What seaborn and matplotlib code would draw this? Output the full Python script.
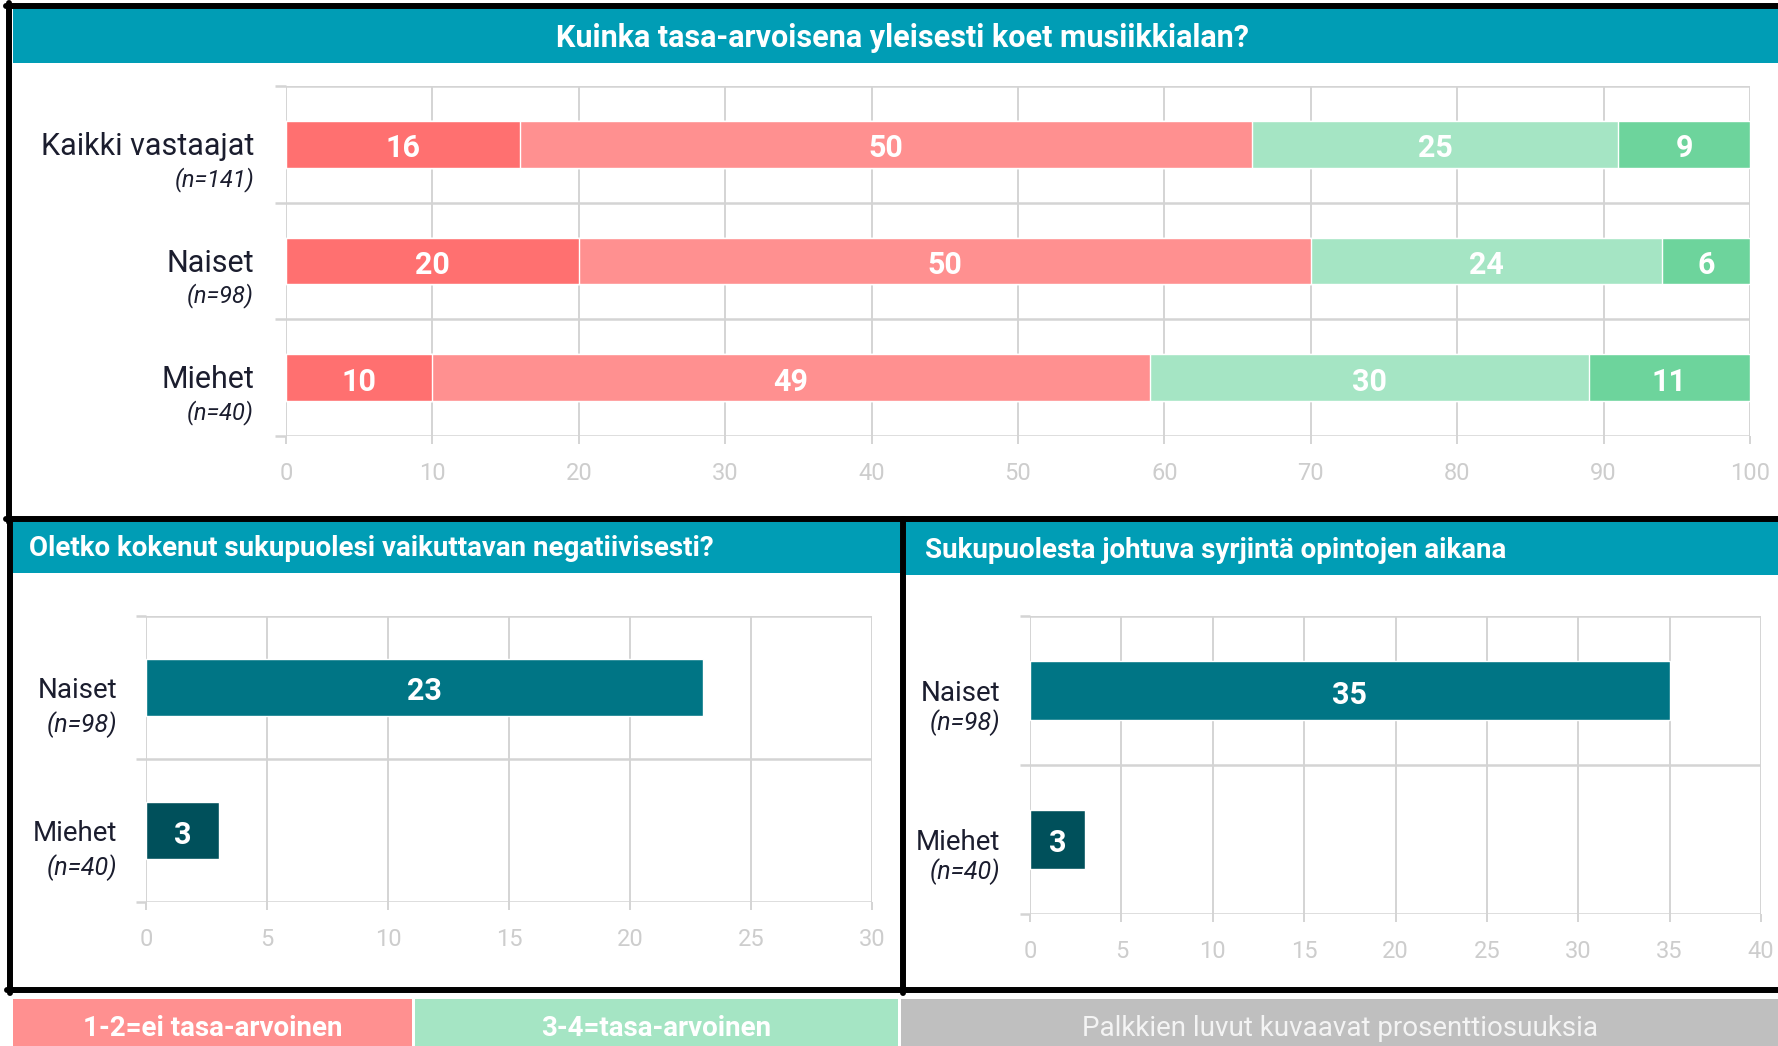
import numpy as np
import pandas as pd
import matplotlib
matplotlib.use("Agg")
import matplotlib.pyplot as plt
import seaborn as sns
from matplotlib.patches import Rectangle
from matplotlib.lines import Line2D
from matplotlib import font_manager

# ---------------- data ----------------
top_title = "Kuinka tasa-arvoisena yleisesti koet musiikkialan?"
top_categories = ["Kaikki vastaajat", "Naiset", "Miehet"]
top_n_labels = ["(n=141)", "(n=98)", "(n=40)"]
seg_1 = [16, 20, 10]
seg_2 = [50, 50, 49]
seg_3 = [25, 24, 30]
seg_4 = [9, 6, 11]
top_ticks = [0, 10, 20, 30, 40, 50, 60, 70, 80, 90, 100]

neg_title = "Oletko kokenut sukupuolesi vaikuttavan negatiivisesti?"
neg_categories = ["Naiset", "Miehet"]
neg_n_labels = ["(n=98)", "(n=40)"]
neg_values = [23, 3]
neg_ticks = [0, 5, 10, 15, 20, 25, 30]

disc_title = "Sukupuolesta johtuva syrjintä opintojen aikana"
disc_categories = ["Naiset", "Miehet"]
disc_n_labels = ["(n=98)", "(n=40)"]
disc_values = [35, 3]
disc_ticks = [0, 5, 10, 15, 20, 25, 30, 35, 40]

legend_texts = ["1-2=ei tasa-arvoinen", "3-4=tasa-arvoinen",
                "Palkkien luvut kuvaavat prosenttiosuuksia"]

# ---------------- style ----------------
sns.set_theme(style="white")
names = {f.name for f in font_manager.fontManager.ttflist}
REG = "Roboto" if "Roboto" in names else "DejaVu Sans"
plt.rcParams["font.family"] = [REG, "DejaVu Sans"]

BAND = "#009DB5"
SEG_COLORS = ["#FF7070", "#FF9090", "#A5E5C4", "#6DD49C"]
TEAL = ["#007585", "#00505B"]
GRID = "#D4D4D4"
TICKC = "#CDCDCD"
LABC = "#1b1d2e"
LEG_GRAY = "#BFBFBF"

W, H = 1778, 1046
fig = plt.figure(figsize=(W / 100, H / 100), dpi=100)
fig.patch.set_facecolor("white")


def fbox(x0, y0, x1, y1):
    return [x0 / W, 1 - y1 / H, (x1 - x0) / W, (y1 - y0) / H]


def rect(x0, y0, x1, y1, color):
    b = fbox(x0, y0, x1, y1)
    fig.add_artist(Rectangle((b[0], b[1]), b[2], b[3], transform=fig.transFigure,
                             facecolor=color, edgecolor="none", zorder=0))


def hline(y, x0, x1, lw=4.3, color="black"):
    fig.add_artist(Line2D([x0 / W, x1 / W], [1 - y / H, 1 - y / H],
                          transform=fig.transFigure, color=color, lw=lw, zorder=5))


def vline(x, y0, y1, lw=4.3, color="black"):
    fig.add_artist(Line2D([x / W, x / W], [1 - y0 / H, 1 - y1 / H],
                          transform=fig.transFigure, color=color, lw=lw, zorder=5))


val_fs = 22

# title bands
rect(13, 9, W, 63, BAND)
rect(13, 522, 900, 573, BAND)
rect(906, 522, W, 575, BAND)
fig.text(902 / W, 1 - 38 / H, top_title, ha="center", va="center", color="white",
         fontsize=22, fontweight="bold")
fig.text(29 / W, 1 - 549 / H, neg_title, ha="left", va="center", color="white",
         fontsize=20, fontweight="bold")
fig.text(925 / W, 1 - 550 / H, disc_title, ha="left", va="center", color="white",
         fontsize=20, fontweight="bold")

# panel borders
hline(6, 6, W)
vline(9, 3, 522)
hline(519, 6, W)
vline(10, 519, 993)
hline(990, 7, W)
vline(903, 519, 993)

# legend strips
strips = [(13, 412, SEG_COLORS[1]), (415, 898, SEG_COLORS[2]), (901, W, LEG_GRAY)]
for (x0, x1, c), t, i in zip(strips, legend_texts, range(3)):
    rect(x0, 999, x1, H, c)
    fig.text((x0 + x1) / 2 / W, 1 - 1029 / H, t, ha="center", va="center",
             color="white" if i < 2 else "#F4F4F4", fontsize=20,
             fontweight="bold" if i < 2 else "normal")


def style_axis(ax, ticks, ncat, left_ext):
    ax.set_xlim(ticks[0], ticks[-1])
    ax.set_ylim(ncat - 0.5, -0.5)
    ax.set_xticks(ticks)
    ax.set_xticklabels([str(t) for t in ticks])
    ax.set_yticks(range(ncat))
    ax.set_yticklabels([""] * ncat)
    ax.set_yticks(np.arange(-0.5, ncat, 1.0), minor=True)
    ax.grid(axis="x", color=GRID, lw=1.4)
    ax.grid(axis="y", visible=False)
    ax.set_axisbelow(True)
    for s in ax.spines.values():
        s.set_visible(False)
    for b in np.arange(-0.5, ncat, 1.0):
        ax.axhline(b, color=GRID, lw=1.8, zorder=0.5)
    ax.tick_params(axis="x", length=6, width=1.4, color=GRID, labelcolor=TICKC,
                   labelsize=17, pad=13, bottom=True)
    ax.tick_params(axis="y", which="major", length=0)
    ax.tick_params(axis="y", which="minor", length=left_ext, width=1.8, color=GRID, left=True)
    ax.set_xlabel("")
    ax.set_ylabel("")
    ax.set_facecolor("none")


def cat_labels(ax, cats, ns, xoff, yoff, noff, fs, nfs):
    for i, (c, n) in enumerate(zip(cats, ns)):
        ax.annotate(c, xy=(0, i), xycoords=("axes fraction", "data"),
                    xytext=(xoff, -yoff), textcoords="offset pixels",
                    ha="right", va="center", fontsize=fs, color=LABC)
        ax.annotate(n, xy=(0, i), xycoords=("axes fraction", "data"),
                    xytext=(xoff, -yoff - noff), textcoords="offset pixels",
                    ha="right", va="center", fontsize=nfs, color=LABC, style="italic")


def value_label(ax, x, y, txt):
    ax.annotate(txt, xy=(x, y), xytext=(0, -4), textcoords="offset pixels",
                ha="center", va="center", color="white", fontsize=val_fs,
                fontweight="bold", zorder=3)


# ---------------- top stacked chart ----------------
ax1 = fig.add_axes(fbox(286, 86, 1750, 436))
segs = [seg_1, seg_2, seg_3, seg_4]
cum = np.cumsum(np.array(segs), axis=0)
for k in range(3, -1, -1):
    df = pd.DataFrame({"cat": top_categories, "val": cum[k]})
    sns.barplot(data=df, y="cat", x="val", orient="h", color=SEG_COLORS[k],
                saturation=1, width=0.4, ax=ax1, zorder=2)
for k in range(4):
    for i in range(3):
        value_label(ax1, cum[k][i] - segs[k][i] / 2, i, str(segs[k][i]))
style_axis(ax1, top_ticks, 3, 8)
cat_labels(ax1, top_categories, top_n_labels, -32, 2, 33, 22, 17)

# ---------------- bottom left ----------------
ax2 = fig.add_axes(fbox(146, 616, 872, 902))
df2 = pd.DataFrame({"cat": neg_categories, "val": neg_values})
sns.barplot(data=df2, y="cat", x="val", hue="cat", palette=TEAL, orient="h",
            saturation=1, width=0.4, ax=ax2, legend=False, zorder=2)
for i, v in enumerate(neg_values):
    value_label(ax2, v / 2, i, str(v))
style_axis(ax2, neg_ticks, 2, 7)
cat_labels(ax2, neg_categories, neg_n_labels, -29, 3, 34, 20, 18)

# ---------------- bottom right ----------------
ax3 = fig.add_axes(fbox(1030, 616, 1761, 914))
df3 = pd.DataFrame({"cat": disc_categories, "val": disc_values})
sns.barplot(data=df3, y="cat", x="val", hue="cat", palette=TEAL, orient="h",
            saturation=1, width=0.4, ax=ax3, legend=False, zorder=2)
for i, v in enumerate(disc_values):
    value_label(ax3, v / 2, i, str(v))
style_axis(ax3, disc_ticks, 2, 7)
cat_labels(ax3, disc_categories, disc_n_labels, -30, 3, 29, 20, 18)

fig.savefig("out.png", dpi=100, facecolor="white")
